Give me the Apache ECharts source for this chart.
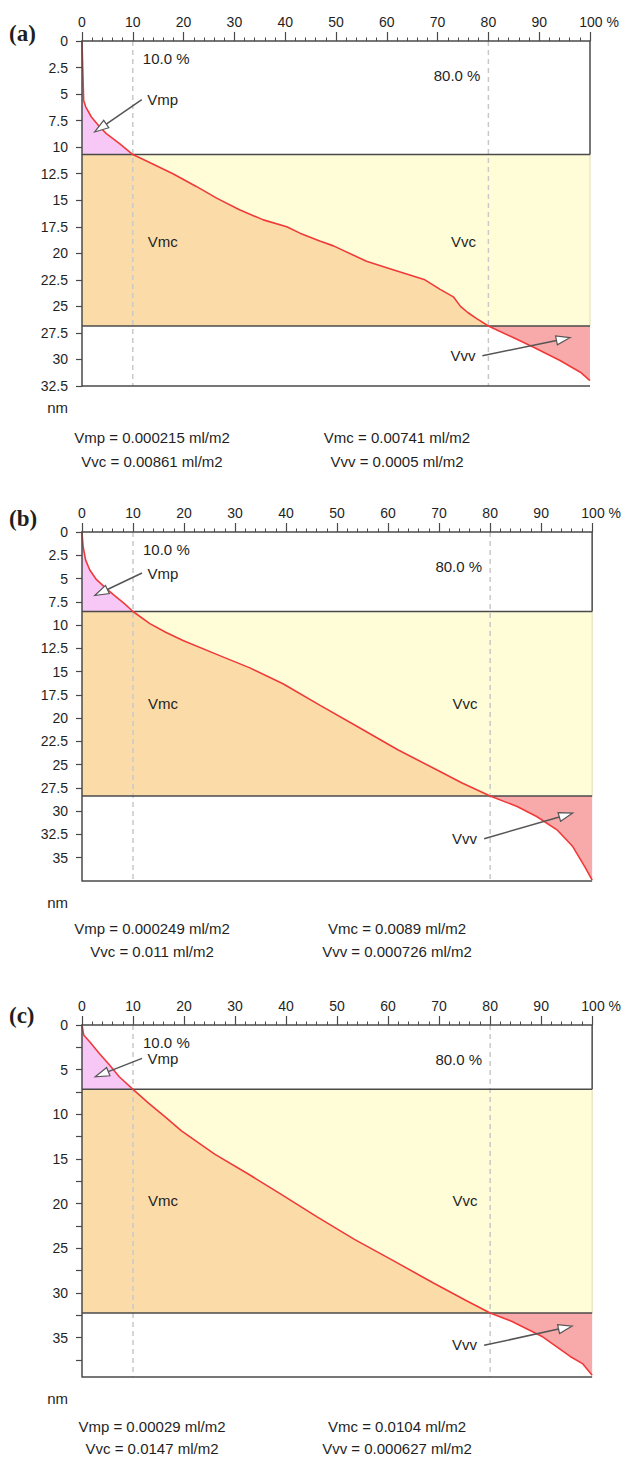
<!DOCTYPE html>
<html>
<head>
<meta charset="utf-8">
<script src="https://cdn.jsdelivr.net/npm/echarts@6/dist/echarts.min.js"></script>
<style>
  html, body { margin: 0; padding: 0; background: #fff; }
  #chart { width: 624px; height: 1459px; }
</style>
</head>
<body>
<div id="chart"></div>
<script>
// Bearing-area (Abbott-Firestone) curves: material ratio (%) against depth (nm)
const ratioA = [0, 0.14, 0.33, 0.73, 1.85, 3.5, 4.8, 7.4, 10, 12.7, 17.9, 22.5, 26.5, 31, 35.7, 40.3, 42.9, 46.8, 49.5, 56, 60.6, 67.5, 70.5, 73.1, 74.5, 76, 77.7, 80, 85.6, 88.9, 94.1, 98.1, 100];
const depthA = [0, 2.45, 5.6, 6.2, 7.16, 8.1, 8.72, 9.67, 10.7, 11.3, 12.5, 13.7, 14.8, 15.9, 16.85, 17.5, 18.1, 18.85, 19.3, 20.75, 21.45, 22.5, 23.4, 24.1, 25.0, 25.6, 26.15, 26.85, 28.1, 28.85, 30.1, 31.2, 32.0];

const ratioB = [0, 0.2, 0.7, 1.5, 2.8, 4.6, 6.5, 8.2, 10, 13.3, 16.5, 19.8, 26.4, 32.9, 39.4, 46.6, 54.3, 61.9, 69.7, 74.4, 80, 85.3, 89.2, 93.1, 96.2, 98.6, 100];
const depthB = [0, 1.5, 3.0, 4.05, 5.1, 6.0, 6.9, 7.65, 8.54, 9.85, 10.8, 11.65, 13.15, 14.6, 16.3, 18.6, 21.0, 23.4, 25.6, 26.95, 28.36, 29.5, 30.6, 32.0, 33.8, 36.0, 37.4];

const ratioC = [0, 0.33, 1.5, 3.4, 5.4, 7.3, 10, 13.1, 16.3, 19.5, 26.0, 32.5, 38.9, 46.0, 53.4, 61.1, 68.8, 75.0, 80, 84.2, 90.3, 95.7, 98.1, 100];
const depthC = [0, 1.12, 1.87, 3.18, 4.48, 5.79, 7.2, 8.78, 10.28, 11.85, 14.45, 16.65, 18.9, 21.45, 24.0, 26.4, 28.85, 30.75, 32.24, 33.15, 34.9, 37.1, 37.9, 39.2];

// material ratios that split peak / core / valley zones
const splitRatios = [10, 80];

// functional volume parameters (ml/m2): Vmp, Vmc, Vvc, Vvv
const volumeNames = ['Vmp', 'Vmc', 'Vvc', 'Vvv'];
const volumesA = [0.000215, 0.00741, 0.00861, 0.0005];
const volumesB = [0.000249, 0.0089, 0.011, 0.000726];
const volumesC = [0.00029, 0.0104, 0.0147, 0.000627];

// axis ticks
const ratioTicks = [0, 10, 20, 30, 40, 50, 60, 70, 80, 90, 100];
const depthLabelsA = [0, 2.5, 5, 7.5, 10, 12.5, 15, 17.5, 20, 22.5, 25, 27.5, 30, 32.5];
const depthLabelsB = [0, 2.5, 5, 7.5, 10, 12.5, 15, 17.5, 20, 22.5, 25, 27.5, 30, 32.5, 35];
const depthLabelsC = [0, 5, 10, 15, 20, 25, 30, 35];
const depthTicksC = [0, 2.5, 5, 7.5, 10, 12.5, 15, 17.5, 20, 22.5, 25, 27.5, 30, 32.5, 35, 37.5];
const depthMax = [32.5, 37.5, 39.4];

// ---- layout & styling ----
const FONT = "'Liberation Sans', Arial, sans-serif";
const TEXT = '#1f1f1f';
const FRAME = '#4a4a4a';
const COLORS = { peak: '#f7c8f6', core: '#fbdca9', upper: '#fffdd8', valley: '#f8a9a9', curve: '#f03a3a', dash: '#c9c9c9' };

const panels = [
  { tag: '(a)', ratio: ratioA, depth: depthA, max: depthMax[0], yLabels: depthLabelsA, yTicks: depthLabelsA, volumes: volumesA,
    grid: { left: 82, top: 41, width: 508, height: 345 }, tagY: 33, footY: [437, 461],
    note: { vmpY: 5.52, vmpTip: [2.5, 8.57], coreY: 18.87, vvvY: 29.6, vvvTip: [96.1, 27.94] } },
  { tag: '(b)', ratio: ratioB, depth: depthB, max: depthMax[1], yLabels: depthLabelsB, yTicks: depthLabelsB, volumes: volumesB,
    grid: { left: 82, top: 532, width: 511, height: 349 }, tagY: 518, footY: [928, 951],
    note: { vmpY: 4.41, vmpTip: [2.5, 6.82], coreY: 18.4, vvvY: 32.9, vvvTip: [96.2, 30.2] } },
  { tag: '(c)', ratio: ratioC, depth: depthC, max: depthMax[2], yLabels: depthLabelsC, yTicks: depthTicksC, volumes: volumesC,
    grid: { left: 82, top: 1025, width: 517, height: 352 }, tagY: 1015, footY: [1426, 1448],
    note: { vmpY: 3.73, vmpTip: [2.6, 5.79], coreY: 19.6, vvvY: 35.8, vvvTip: [96.1, 33.7] } }
];

// depth on the curve at a given material ratio (linear between samples)
function depthAt(p, r) {
  for (let i = 1; i < p.ratio.length; i++) {
    if (p.ratio[i] >= r) {
      const r0 = p.ratio[i - 1], r1 = p.ratio[i];
      const t = r1 === r0 ? 0 : (r - r0) / (r1 - r0);
      return p.depth[i - 1] + t * (p.depth[i] - p.depth[i - 1]);
    }
  }
  return p.depth[p.depth.length - 1];
}

function curvePoints(p) {
  return p.ratio.map((r, i) => [r, p.depth[i]]);
}

// zone fills, reference lines and frame
function backgroundRenderer(p) {
  return function (params, api) {
    const pts = curvePoints(p);
    const d1 = depthAt(p, splitRatios[0]);
    const d2 = depthAt(p, splitRatios[1]);
    const C = q => api.coord(q);
    const upper = pts.filter(q => q[1] < d1).concat([[splitRatios[0], d1]]);
    const core = [[splitRatios[0], d1]].concat(pts.filter(q => q[1] > d1 && q[1] < d2), [[splitRatios[1], d2]]);
    const lower = [[splitRatios[1], d2]].concat(pts.filter(q => q[1] > d2));
    const poly = (arr, fill) => ({ type: 'polygon', shape: { points: arr.map(C) }, style: { fill: fill, stroke: null } });
    const seg = (a, b, style) => {
      const pa = C(a), pb = C(b);
      return { type: 'line', shape: { x1: pa[0], y1: pa[1], x2: pb[0], y2: pb[1] }, style: style };
    };
    const frame = { stroke: FRAME, lineWidth: 1.5 };
    const children = [
      poly(upper.concat([[0, d1]]), COLORS.peak),
      poly(core.concat([[0, d2], [0, d1]]), COLORS.core),
      poly(core.concat([[100, d2], [100, d1]]), COLORS.upper),
      poly(lower.concat([[100, d2]]), COLORS.valley),
      seg([100, d1], [100, d2], { stroke: '#e2ddb0', lineWidth: 1 })
    ];
    splitRatios.forEach(r => children.push(seg([r, 0], [r, p.max], { stroke: COLORS.dash, lineWidth: 1.5, lineDash: [5, 4] })));
    children.push(
      seg([100, 0], [100, d1], frame),
      seg([0, d1], [100, d1], frame),
      seg([0, d2], [100, d2], frame),
      seg([0, p.max], [100, p.max], frame)
    );
    return { type: 'group', children: children };
  };
}

function arrow(from, tip) {
  const dx = tip[0] - from[0], dy = tip[1] - from[1];
  const len = Math.sqrt(dx * dx + dy * dy);
  const ux = dx / len, uy = dy / len;
  const head = 14, half = 4.5;
  const bx = tip[0] - ux * head, by = tip[1] - uy * head;
  return [
    { type: 'line', shape: { x1: from[0], y1: from[1], x2: bx, y2: by }, style: { stroke: '#555', lineWidth: 1.5 } },
    { type: 'polygon', shape: { points: [tip, [bx - uy * half, by + ux * half], [bx + uy * half, by - ux * half]] },
      style: { fill: '#fff', stroke: '#555', lineWidth: 1.2 } }
  ];
}

function label(text, x, y, align) {
  return { type: 'text', x: x, y: y,
    style: { text: text, fill: TEXT, font: '15px ' + FONT, align: align, verticalAlign: 'middle', textAlign: align, textVerticalAlign: 'middle' } };
}

// zone names, threshold percentages and pointers
function noteRenderer(p) {
  return function (params, api) {
    const n = p.note;
    const C = q => api.coord(q);
    const x10 = C([splitRatios[0], 0])[0];
    const x80 = C([splitRatios[1], 0])[0];
    const top = C([0, 0])[1];
    const vmpY = C([0, n.vmpY])[1];
    const coreY = C([0, n.coreY])[1];
    const vvvY = C([0, n.vvvY])[1];
    const children = [
      label(splitRatios[0].toFixed(1) + ' %', x10 + 10, top + 17, 'left'),
      label(splitRatios[1].toFixed(1) + ' %', x80 - 8, top + 34.5, 'right'),
      label(volumeNames[0], x10 + 14.5, vmpY, 'left'),
      label(volumeNames[1], x10 + 15, coreY, 'left'),
      label(volumeNames[2], x80 - 12.5, coreY, 'right'),
      label(volumeNames[3], x80 - 13, vvvY, 'right')
    ].concat(
      arrow([x10 + 9, vmpY], C(n.vmpTip)),
      arrow([x80 - 6, vvvY + 0.5], C(n.vvvTip))
    );
    return { type: 'group', children: children };
  };
}

const option = {
  animation: false,
  backgroundColor: '#fff',
  grid: panels.map(p => Object.assign({ containLabel: false }, p.grid)),
  xAxis: panels.map((p, i) => ({
    type: 'value', gridIndex: i, position: 'top', min: 0, max: 100, interval: 10, z: 10,
    axisLine: { show: true, lineStyle: { color: FRAME, width: 1.5 } },
    axisTick: { show: true, inside: false, length: 9, lineStyle: { color: FRAME, width: 1.2 }, customValues: ratioTicks },
    minorTick: { show: true, splitNumber: 5, length: 3.5, lineStyle: { color: FRAME, width: 1 } },
    splitLine: { show: false },
    axisLabel: {
      margin: 12, color: TEXT, fontSize: 14, fontFamily: FONT, customValues: ratioTicks,
      formatter: v => (v === 100 ? '{last|100 %}' : String(v)),
      rich: { last: { fontSize: 14, fontFamily: FONT, color: TEXT, padding: [0, 0, 0, 18] } }
    }
  })),
  yAxis: panels.map((p, i) => ({
    type: 'value', gridIndex: i, inverse: true, min: 0, max: p.max, interval: 2.5, z: 10,
    axisLine: { show: true, lineStyle: { color: FRAME, width: 1.5 } },
    axisTick: { show: true, inside: false, length: 6, lineStyle: { color: FRAME, width: 1.2 }, customValues: p.yTicks },
    splitLine: { show: false },
    axisLabel: { margin: 14, color: TEXT, fontSize: 14, fontFamily: FONT, customValues: p.yLabels }
  })),
  series: [].concat(...panels.map((p, i) => [
    { type: 'custom', xAxisIndex: i, yAxisIndex: i, z: 1, silent: true, data: [[50, 1]], renderItem: backgroundRenderer(p) },
    { type: 'line', xAxisIndex: i, yAxisIndex: i, z: 3, data: curvePoints(p), symbol: 'none', silent: true,
      lineStyle: { color: COLORS.curve, width: 1.6 } },
    { type: 'custom', xAxisIndex: i, yAxisIndex: i, z: 4, silent: true, data: [[50, 1]], renderItem: noteRenderer(p) }
  ])),
  graphic: [].concat(...panels.map(p => {
    const v = p.volumes;
    const fmt = k => volumeNames[k] + ' = ' + String(v[k]) + ' ml/m2';
    const bottom = p.grid.top + p.grid.height;
    const t = (text, x, y, font, align) => ({ type: 'text', x: x, y: y,
      style: { text: text, fill: TEXT, font: font, align: align, verticalAlign: 'middle', textAlign: align, textVerticalAlign: 'middle' } });
    return [
      t(p.tag, 9, p.tagY, 'bold 23px "Liberation Serif", "Times New Roman", serif', 'left'),
      t('nm', 68, bottom + 21, '15px ' + FONT, 'right'),
      t(fmt(0), 152, p.footY[0], '15px ' + FONT, 'center'),
      t(fmt(1), 397, p.footY[0], '15px ' + FONT, 'center'),
      t(fmt(2), 152, p.footY[1], '15px ' + FONT, 'center'),
      t(fmt(3), 397, p.footY[1], '15px ' + FONT, 'center')
    ];
  }))
};

const chart = echarts.init(document.getElementById('chart'), null, { renderer: 'svg', width: 624, height: 1459 });
chart.setOption(option);
</script>
</body>
</html>
